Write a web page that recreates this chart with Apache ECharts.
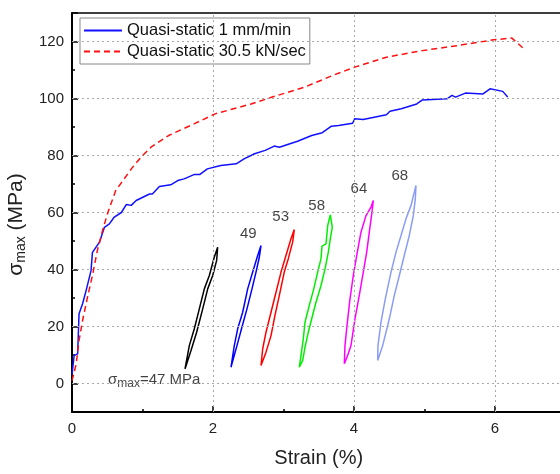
<!DOCTYPE html>
<html>
<head>
<meta charset="utf-8">
<script src="https://cdn.jsdelivr.net/npm/echarts@6/dist/echarts.min.js"></script>
<style>
html, body { margin: 0; padding: 0; background: #fff; }
#main { width: 560px; height: 474px; }
</style>
</head>
<body>
<div id="main"></div>
<script>
// monotonic curves
var slowStrain = [0, 0.03, 0.08, 0.10, 0.15, 0.20, 0.27, 0.29, 0.39, 0.46, 0.53, 0.60, 0.70, 0.77, 0.84, 0.91, 1.10, 1.14, 1.24, 1.40, 1.50, 1.59, 1.73, 1.81, 1.92, 2.11, 2.33, 2.44, 2.59, 2.74, 2.87, 2.94, 3.20, 3.40, 3.55, 3.68, 3.78, 3.98, 4.01, 4.13, 4.46, 4.51, 4.67, 4.89, 4.97, 5.32, 5.39, 5.44, 5.58, 5.83, 5.93, 6.11, 6.18];
var slowStress = [3, 9.8, 10.4, 24.5, 28, 32.6, 39.6, 46, 49.6, 54.8, 56, 58.4, 60, 62.8, 62.5, 64.2, 66.5, 66.5, 69.1, 69.7, 71.2, 71.8, 73.3, 73.3, 75.3, 76.5, 77.1, 78.8, 80.6, 81.8, 83.3, 82.9, 85.0, 87.0, 88.0, 90.3, 90.5, 91.3, 92.9, 92.6, 94.3, 95.5, 96.4, 98.1, 99.5, 99.9, 101.1, 100.5, 101.9, 101.6, 103.4, 102.5, 100.5];
var fastStrain = [0, 0.06, 0.10, 0.15, 0.22, 0.29, 0.36, 0.44, 0.51, 0.62, 0.74, 0.86, 0.98, 1.12, 1.37, 1.73, 2.03, 2.54, 2.84, 3.30, 3.70, 4.01, 4.46, 4.97, 5.48, 5.98, 6.24, 6.41];
var fastStress = [1, 6.9, 15.1, 22.1, 30.3, 37.9, 46.7, 54.3, 60.1, 67.7, 71.8, 75.9, 79.4, 82.9, 87, 91.1, 94.6, 98.1, 100.5, 104, 108.1, 111, 114.5, 116.8, 118.6, 120.6, 121.2, 117.4];

// hysteresis loops (up one side, down the other, closed)
var loop47x = [1.603, 1.664, 1.735, 1.806, 1.877, 1.948, 2.018, 2.066, 2.052, 1.996, 1.925, 1.854, 1.768, 1.688, 1.603];
var loop47y = [5.1, 13.3, 19.2, 26.2, 33.2, 37.9, 44.3, 47.8, 43.2, 37.9, 33.2, 26.2, 18.0, 11.6, 5.1];
var loop49x = [2.255, 2.302, 2.350, 2.421, 2.492, 2.563, 2.634, 2.681, 2.657, 2.610, 2.553, 2.482, 2.411, 2.340, 2.255];
var loop49y = [5.7, 13.3, 19.2, 25.0, 33.2, 39.1, 44.9, 48.4, 44.3, 39.1, 33.2, 26.2, 19.8, 13.3, 5.7];
var loop53x = [2.681, 2.705, 2.752, 2.823, 2.894, 2.965, 3.035, 3.106, 3.153, 3.130, 3.068, 3.011, 2.941, 2.879, 2.823, 2.752, 2.681];
var loop53y = [6.3, 12.2, 18.0, 25.0, 32.0, 39.1, 44.9, 50.8, 54.0, 49.6, 43.8, 39.1, 30.9, 23.9, 16.8, 11.0, 6.3];
var loop58x = [3.224, 3.248, 3.281, 3.305, 3.366, 3.423, 3.485, 3.532, 3.546, 3.603, 3.627, 3.664, 3.692, 3.664, 3.636, 3.589, 3.532, 3.461, 3.400, 3.352, 3.305, 3.272, 3.224];
var loop58y = [5.7, 9.8, 15.7, 21.5, 27.4, 32.6, 39.1, 43.8, 48.2, 49.0, 55.4, 59.2, 54.8, 50.8, 46.1, 40.2, 34.4, 28.5, 22.7, 18.0, 12.7, 8.1, 5.7];
var loop64x = [3.863, 3.872, 3.901, 3.943, 3.990, 4.038, 4.099, 4.170, 4.241, 4.274, 4.255, 4.217, 4.180, 4.132, 4.075, 4.014, 3.957, 3.910, 3.863];
var loop64y = [6.9, 13.3, 20.4, 29.7, 37.9, 44.9, 53.1, 58.9, 61.9, 64.2, 60.1, 53.1, 46.1, 39.1, 30.9, 22.7, 13.3, 9.8, 6.9];
var loop68x = [4.336, 4.340, 4.383, 4.444, 4.525, 4.596, 4.667, 4.738, 4.809, 4.879, 4.870, 4.841, 4.784, 4.713, 4.643, 4.572, 4.501, 4.407, 4.336];
var loop68y = [8.1, 13.3, 21.5, 29.7, 39.1, 46.1, 51.9, 57.8, 62.5, 69.5, 64.8, 58.9, 51.9, 44.9, 37.9, 30.9, 22.7, 13.3, 8.1];

// peak-stress labels
var peakLabels = ['49', '53', '58', '64', '68'];
var peakLabelX = [2.50, 2.96, 3.47, 4.07, 4.65];
var peakLabelY = [52.5, 58.3, 62.3, 68.4, 72.9];

// major grid positions
var gridStrain = [2, 4, 6];
var gridStress = [0, 20, 40, 60, 80, 100, 120];

var FONT = 'Liberation Sans, Arial, sans-serif';
var GRID_LINE = {color: '#a8a8a8', width: 1, type: [2, 3]};

function pairs(xs, ys) {
    return xs.map(function (x, i) { return [x, ys[i]]; });
}

function loopSeries(name, xs, ys, color) {
    return {
        name: name,
        type: 'line',
        data: pairs(xs, ys),
        symbol: 'none',
        silent: true,
        lineStyle: {color: color, width: 1.5},
        itemStyle: {color: color},
        z: 3
    };
}

var chart = echarts.init(document.getElementById('main'));

var option = {
    animation: false,
    backgroundColor: '#fff',
    textStyle: {fontFamily: FONT},
    grid: {
        left: 72, top: 13, width: 493.5, height: 399,
        outerBoundsMode: 'none', containLabel: false
    },
    legend: {
        data: ['Quasi-static 1 mm/min', 'Quasi-static 30.5 kN/sec'],
        orient: 'vertical',
        left: 80, top: 18,
        itemWidth: 38, itemHeight: 12, itemGap: 4,
        padding: [4, 4, 4, 3],
        borderColor: '#888', borderWidth: 1,
        backgroundColor: '#fff',
        itemStyle: {opacity: 0},
        textStyle: {fontSize: 16.5, color: '#111', fontFamily: FONT}
    },
    xAxis: [{
        // major ticks, labels
        type: 'value', min: 0, max: 7, interval: 2, position: 'bottom',
        name: 'Strain (%)', nameLocation: 'middle', nameGap: 36,
        nameTextStyle: {fontSize: 20, color: '#222', fontFamily: FONT},
        axisLine: {onZero: false, lineStyle: {color: '#000', width: 2}},
        axisTick: {inside: true, length: 6, lineStyle: {color: '#000', width: 1.5}},
        axisLabel: {
            fontSize: 15, color: '#222', margin: 9, fontFamily: FONT,
            formatter: function (v) { return v % 2 === 0 ? String(v) : ''; }
        },
        splitLine: {show: false}
    }, {
        // minor ticks
        type: 'value', min: 0, max: 7, interval: 1, position: 'bottom',
        axisLine: {show: false, onZero: false},
        axisTick: {inside: true, length: 3, lineStyle: {color: '#000', width: 1.5}},
        axisLabel: {show: false},
        splitLine: {show: false}
    }, {
        // top frame line
        type: 'value', min: 0, max: 7, interval: 2, position: 'top',
        axisLine: {show: true, onZero: false, lineStyle: {color: '#000', width: 1.5}},
        axisTick: {show: false},
        axisLabel: {show: false},
        splitLine: {show: false}
    }],
    yAxis: [{
        type: 'value', min: -10, max: 130, splitNumber: 7, position: 'left',
        name: '{a|σ}{s|max}{a| (MPa)}', nameLocation: 'middle', nameGap: 36,
        nameTextStyle: {
            padding: [0, 24, 0, 0],
            rich: {
                a: {fontSize: 21, color: '#222', fontFamily: FONT},
                s: {fontSize: 14, color: '#222', fontFamily: FONT, padding: [10, 0, 0, 0]}
            }
        },
        axisLine: {onZero: false, lineStyle: {color: '#000', width: 2}},
        axisTick: {inside: true, length: 6, lineStyle: {color: '#000', width: 1.5}},
        axisLabel: {
            fontSize: 15, color: '#222', margin: 8, fontFamily: FONT,
            formatter: function (v) { return (v % 20 === 0 && v >= 0 && v <= 120) ? String(v) : ''; }
        },
        splitLine: {show: false}
    }, {
        type: 'value', min: -10, max: 130, interval: 10, position: 'left',
        axisLine: {show: false, onZero: false},
        axisTick: {inside: true, length: 3, lineStyle: {color: '#000', width: 1.5}},
        axisLabel: {show: false},
        splitLine: {show: false}
    }],
    series: [{
        // dotted major grid
        name: 'grid',
        type: 'line',
        data: [],
        silent: true,
        z: 1,
        markLine: {
            silent: true,
            symbol: 'none',
            label: {show: false},
            lineStyle: GRID_LINE,
            emphasis: {disabled: true},
            data: gridStrain.map(function (v) { return {xAxis: v}; })
                .concat(gridStress.map(function (v) { return {yAxis: v}; }))
        }
    }, {
        name: 'Quasi-static 1 mm/min',
        type: 'line',
        data: pairs(slowStrain, slowStress),
        symbol: 'none',
        lineStyle: {color: '#1010ff', width: 1.5},
        itemStyle: {color: '#1010ff'},
        z: 4
    }, {
        name: 'Quasi-static 30.5 kN/sec',
        type: 'line',
        data: pairs(fastStrain, fastStress),
        symbol: 'none',
        lineStyle: {color: '#ff1010', width: 1.5, type: [6, 4]},
        itemStyle: {color: '#ff1010'},
        z: 5
    },
        loopSeries('loop47', loop47x, loop47y, '#000000'),
        loopSeries('loop49', loop49x, loop49y, '#0000ff'),
        loopSeries('loop53', loop53x, loop53y, '#ff0000'),
        loopSeries('loop58', loop58x, loop58y, '#00ee00'),
        loopSeries('loop64', loop64x, loop64y, '#ff00ff'),
        loopSeries('loop68', loop68x, loop68y, '#8a9cf5'),
    {
        // on the top frame axis so it gets drawn
        name: 'peaks',
        type: 'scatter',
        xAxisIndex: 2,
        symbolSize: 0,
        silent: true,
        data: peakLabels.map(function (t, i) { return [peakLabelX[i], peakLabelY[i], t]; }),
        label: {
            show: true, position: 'inside', fontSize: 15, color: '#111', fontFamily: FONT,
            formatter: function (p) { return p.data[2]; }
        }
    }, {
        // on the minor-tick axes so they get drawn
        name: 'note',
        type: 'scatter',
        xAxisIndex: 1,
        yAxisIndex: 1,
        symbolSize: 0,
        silent: true,
        data: [[0.51, 1.2]],
        label: {
            show: true, position: 'right', distance: 0,
            formatter: '{a|σ}{s|max}{a|=47 MPa}',
            rich: {
                a: {fontSize: 15, color: '#111', fontFamily: FONT},
                s: {fontSize: 12, color: '#111', fontFamily: FONT, padding: [8, 0, 0, 0]}
            }
        }
    }]
};

chart.setOption(option);
</script>
</body>
</html>
